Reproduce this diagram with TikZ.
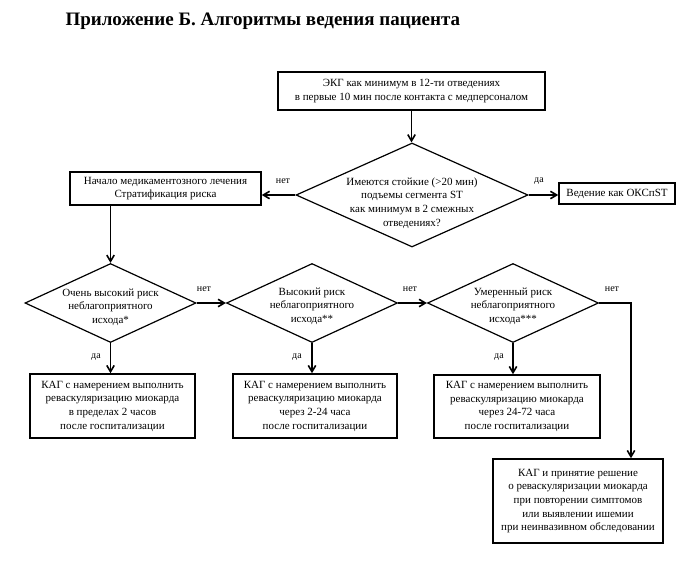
\documentclass[tikz,border=0pt]{standalone}
\usepackage{fontspec}
\setmainfont{Liberation Serif}
\usepackage{tikz}
\usetikzlibrary{arrows.meta,shapes.geometric}

\begin{document}
\begin{tikzpicture}[
  x=1pt, y=-1pt,
  font=\fontsize{11}{13.7}\selectfont,
  pbox/.style={draw, line width=1.5pt, align=center, inner sep=1pt},
  qdia/.style={draw, diamond, line width=1.2pt, inner sep=0pt},
  qtxt/.style={align=center, inner sep=0pt},
  lbl/.style={font=\fontsize{10}{11}\selectfont},
  ar/.style={-{Straight Barb[length=2.2mm, width=2.6mm]}, line width=1.6pt},
]
\useasboundingbox (0,0) rectangle (689,568);

\node[font=\fontsize{19}{22}\bfseries\selectfont, anchor=west] (title) at (62,21)
     {Приложение Б. Алгоритмы ведения пациента};

\node[pbox, minimum width=267, minimum height=38] (ecg) at (411.5,91)
     {ЭКГ как минимум в 12-ти отведениях\\в первые 10 мин после контакта с медперсоналом};

\node[qdia, minimum width=232, minimum height=104] (q1) at (412,195) {};
\node[qtxt] (q1t) at (412,203)
     {Имеются стойкие (>20 мин)\\подъемы сегмента ST\\как минимум в 2 смежных\\отведениях?};

\node[pbox, minimum width=191, minimum height=33] (start) at (165.5,188.5)
     {Начало медикаментозного лечения\\Стратификация риска};
\node[pbox, minimum width=116, minimum height=21] (stemi) at (617,193.5)
     {Ведение как ОКСпST};

% risk levels
\node[qdia, minimum width=171, minimum height=79] (q2) at (110.5,303) {};
\node[qtxt] (q2t) at (110.5,307) {Очень высокий риск\\неблагоприятного\\исхода*};
\node[qdia, minimum width=171, minimum height=79] (q3) at (312,303) {};
\node[qtxt] (q3t) at (312,306) {Высокий риск\\неблагоприятного\\исхода**};
\node[qdia, minimum width=171, minimum height=79] (q4) at (513,303) {};
\node[qtxt] (q4t) at (513,306) {Умеренный риск\\неблагоприятного\\исхода***};

\node[pbox, minimum width=165, minimum height=64] (kag1) at (112.5,406)
     {КАГ с намерением выполнить\\реваскуляризацию миокарда\\в пределах 2 часов\\после госпитализации};
\node[pbox, minimum width=164, minimum height=64] (kag2) at (315,406)
     {КАГ с намерением выполнить\\реваскуляризацию миокарда\\через 2-24 часа\\после госпитализации};
\node[pbox, minimum width=166, minimum height=63] (kag3) at (517,406.5)
     {КАГ с намерением выполнить\\реваскуляризацию миокарда\\через 24-72 часа\\после госпитализации};
\node[pbox, minimum width=170, minimum height=84] (kag4) at (578,501)
     {КАГ и принятие решение\\о реваскуляризации миокарда\\при повторении симптомов\\или выявлении ишемии\\при неинвазивном обследовании};

\coordinate (turn) at (631,303);

\draw[ar] (ecg.south) -- (ecg.south |- q1.north);
\draw[ar] (q1.west) -- (q1.west -| start.east);
\draw[ar] (q1.east) -- (stemi.west |- q1.east);
\draw[ar] (start.south -| q2.north) -- (q2.north);
\foreach \a/\b in {q2/q3, q3/q4}
  \draw[ar] (\a.east) -- (\b.west);
\foreach \a/\b in {q2/kag1, q3/kag2, q4/kag3}
  \draw[ar] (\a.south) -- (\a.south |- \b.north);
\draw[ar] (q4.east) -- (turn) -- (turn |- kag4.north);

\node[lbl] (l1) at (283,181) {нет};
\node[lbl] (l2) at (539,181) {да};
\node[lbl] (l3) at (204,289) {нет};
\node[lbl] (l4) at (410,289) {нет};
\node[lbl] (l5) at (612,289) {нет};
\node[lbl] (l6) at (96,357) {да};
\node[lbl] (l7) at (297,357) {да};
\node[lbl] (l8) at (499,357) {да};
\end{tikzpicture}
\end{document}
